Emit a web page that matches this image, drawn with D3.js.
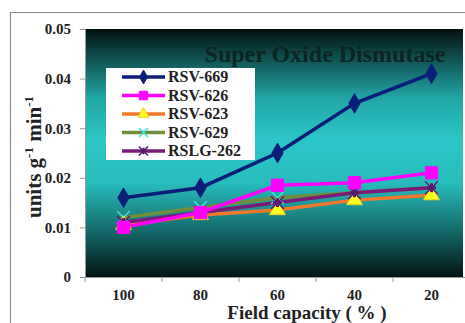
<!DOCTYPE html>
<html><head><meta charset="utf-8">
<script src="https://cdn.jsdelivr.net/npm/d3@7"></script>
<style>body{margin:0;background:#fff}svg{display:block}
svg text{font-family:"Liberation Serif","DejaVu Serif",serif;}</style>
</head><body>
<script>
const categories = ["100","80","60","40","20"];
const seriesNames = ["RSV-669","RSV-626","RSV-623","RSV-629","RSLG-262"];
const rsv669 = [0.016,0.018,0.025,0.035,0.041];
const rsv626 = [0.010,0.013,0.0185,0.019,0.021];
const rsv623 = [0.0105,0.0125,0.0135,0.0155,0.0165];
const rsv629 = [0.012,0.014,0.016,0.017,0.018];
const rslg262 = [0.011,0.013,0.015,0.017,0.018];
const yTicks = [0,0.01,0.02,0.03,0.04,0.05];
const yTickLabels = ["0","0.01","0.02","0.03","0.04","0.05"];

const W=465,H=323;
const svg=d3.select("body").append("svg").attr("width",W).attr("height",H);
const font="Liberation Serif";

// outer frame
svg.append("path").attr("d","M10.5,323 L10.5,12.5 L465,12.5").attr("fill","none").attr("stroke","#8a8a8a").attr("stroke-width",1.2);

const plotL=85, plotR=463, plotT=29, plotB=277;
const x=d3.scaleBand().domain(categories).range([85,470]);
const y=d3.scaleLinear().domain([0,0.05]).range([plotB,plotT]);

const defs=svg.append("defs");
const g=defs.append("linearGradient").attr("id","bg").attr("x1",0).attr("y1",0).attr("x2",0).attr("y2",1);
[[0,"#031010"],[0.08,"#0c3c3c"],[0.28,"#22a6a6"],[0.45,"#2cc6c6"],[0.62,"#28bcbc"],[0.8,"#167070"],[1,"#031414"]]
 .forEach(([o,c])=>g.append("stop").attr("offset",o).attr("stop-color",c));
svg.append("rect").attr("x",plotL).attr("y",plotT).attr("width",plotR-plotL).attr("height",plotB-plotT).attr("fill","url(#bg)");

// y axis
const ya=svg.append("g").attr("transform",`translate(${plotL},0)`)
 .call(d3.axisLeft(y).tickValues(yTicks).tickFormat((d,i)=>yTickLabels[i]).tickSize(5).tickPadding(9));
ya.select(".domain").attr("stroke","#999");
ya.selectAll(".tick line").attr("stroke","#999");
ya.selectAll("text").style("font-family",font).attr("font-weight","bold").attr("font-size",15).attr("fill","#222");

// x axis
const xa=svg.append("g").attr("transform",`translate(0,${plotB})`)
 .call(d3.axisBottom(x).tickSize(0).tickPadding(12));
xa.select(".domain").attr("stroke","#999");
xa.selectAll("text").style("font-family",font).attr("font-weight","bold").attr("font-size",15).attr("fill","#222");
const bounds=categories.map(c=>x(c)).concat([x(categories[4])+x.bandwidth()]);
svg.append("g").selectAll("line").data(bounds.filter(b=>b<=465)).join("line")
 .attr("x1",d=>d).attr("x2",d=>d).attr("y1",plotB).attr("y2",plotB+5).attr("stroke","#999");

// title
svg.append("text").attr("x",325).attr("y",62).attr("text-anchor","middle")
 .style("font-family",font).attr("font-weight","bold").attr("font-size",24).attr("fill","#0c2424")
 .text("Super Oxide Dismutase");

const cx=c=>x(c)+x.bandwidth()/2;
const series=[
 {name:seriesNames[0],vals:rsv669,line:"#0a1e78",mk:"diamond",mfill:"#0a1e78"},
 {name:seriesNames[1],vals:rsv626,line:"#ff00ff",mk:"square",mfill:"#ff00ff"},
 {name:seriesNames[2],vals:rsv623,line:"#f07a2a",mk:"triangle",mfill:"#ffff20"},
 {name:seriesNames[3],vals:rsv629,line:"#6f8f3a",mk:"x",mfill:"#40e0e0"},
 {name:seriesNames[4],vals:rslg262,line:"#7a1a7a",mk:"star",mfill:"#7a1a7a"}
];
const sym={diamond:d3.symbolDiamond,square:d3.symbolSquare,triangle:d3.symbolTriangle};
const line=d3.line().x((d,i)=>cx(categories[i])).y(d=>y(d));
function drawMarker(sel,s,size){
 if(s.mk==="x"){
  sel.append("path").attr("d",d3.symbol(d3.symbolX,size)()).attr("stroke",s.mfill).attr("stroke-width",1.5).attr("fill","none");
 } else if(s.mk==="star"){
  sel.append("path").attr("d",d3.symbol(d3.symbolX,size)()).attr("stroke","#5a1a6a").attr("stroke-width",1.5).attr("fill","none");
  sel.append("path").attr("d",d3.symbol(d3.symbolCross,size*0.4)()).attr("fill","#5a1a6a");
 } else {
  sel.append("path").attr("d",d3.symbol(sym[s.mk],size)()).attr("fill",s.mfill).attr("stroke",s.mk==="triangle"?"#f0d020":s.line).attr("stroke-width",1);
 }
}
const order=[3,2,4,1,0];
order.forEach(k=>{
 const s=series[k];
 svg.append("path").datum(s.vals).attr("d",line).attr("fill","none").attr("stroke",s.line).attr("stroke-width",3.5);
});
order.forEach(k=>{
 const s=series[k];
 s.vals.forEach((v,i)=>{
  const gg=svg.append("g").attr("transform",`translate(${cx(categories[i])},${y(v)})`);
  drawMarker(gg,s,s.mk==="square"?150:110);
 });
});

// legend
const lg=svg.append("g");
lg.append("rect").attr("x",106).attr("y",68).attr("width",149).attr("height",92).attr("fill","#fff");
const ly=[77,95.5,114,132.5,151];
series.forEach((s,i)=>{
 lg.append("line").attr("x1",122).attr("x2",165).attr("y1",ly[i]).attr("y2",ly[i]).attr("stroke",s.line).attr("stroke-width",3.5);
 const m=lg.append("g").attr("transform",`translate(143.5,${ly[i]})`);
 drawMarker(m,s,s.mk==="square"?70:55);
 lg.append("text").attr("x",168).attr("y",ly[i]+5).style("font-family",font).attr("font-weight","bold")
  .attr("font-size",16).attr("fill","#222").text(s.name);
});

// axis titles
svg.append("text").attr("x",307).attr("y",319).attr("text-anchor","middle").style("font-family",font)
 .attr("font-weight","bold").attr("font-size",19).attr("fill","#222").text("Field capacity ( % )");
const yt=svg.append("text").attr("transform","translate(41,157) rotate(-90)").attr("text-anchor","middle")
 .style("font-family",font).attr("font-weight","bold").attr("font-size",21).attr("fill","#222");
yt.append("tspan").text("units g");
yt.append("tspan").attr("dy",-8).attr("font-size",13).text("-1");
yt.append("tspan").attr("dy",8).text(" min");
yt.append("tspan").attr("dy",-8).attr("font-size",13).text("-1");
</script>
</body></html>
